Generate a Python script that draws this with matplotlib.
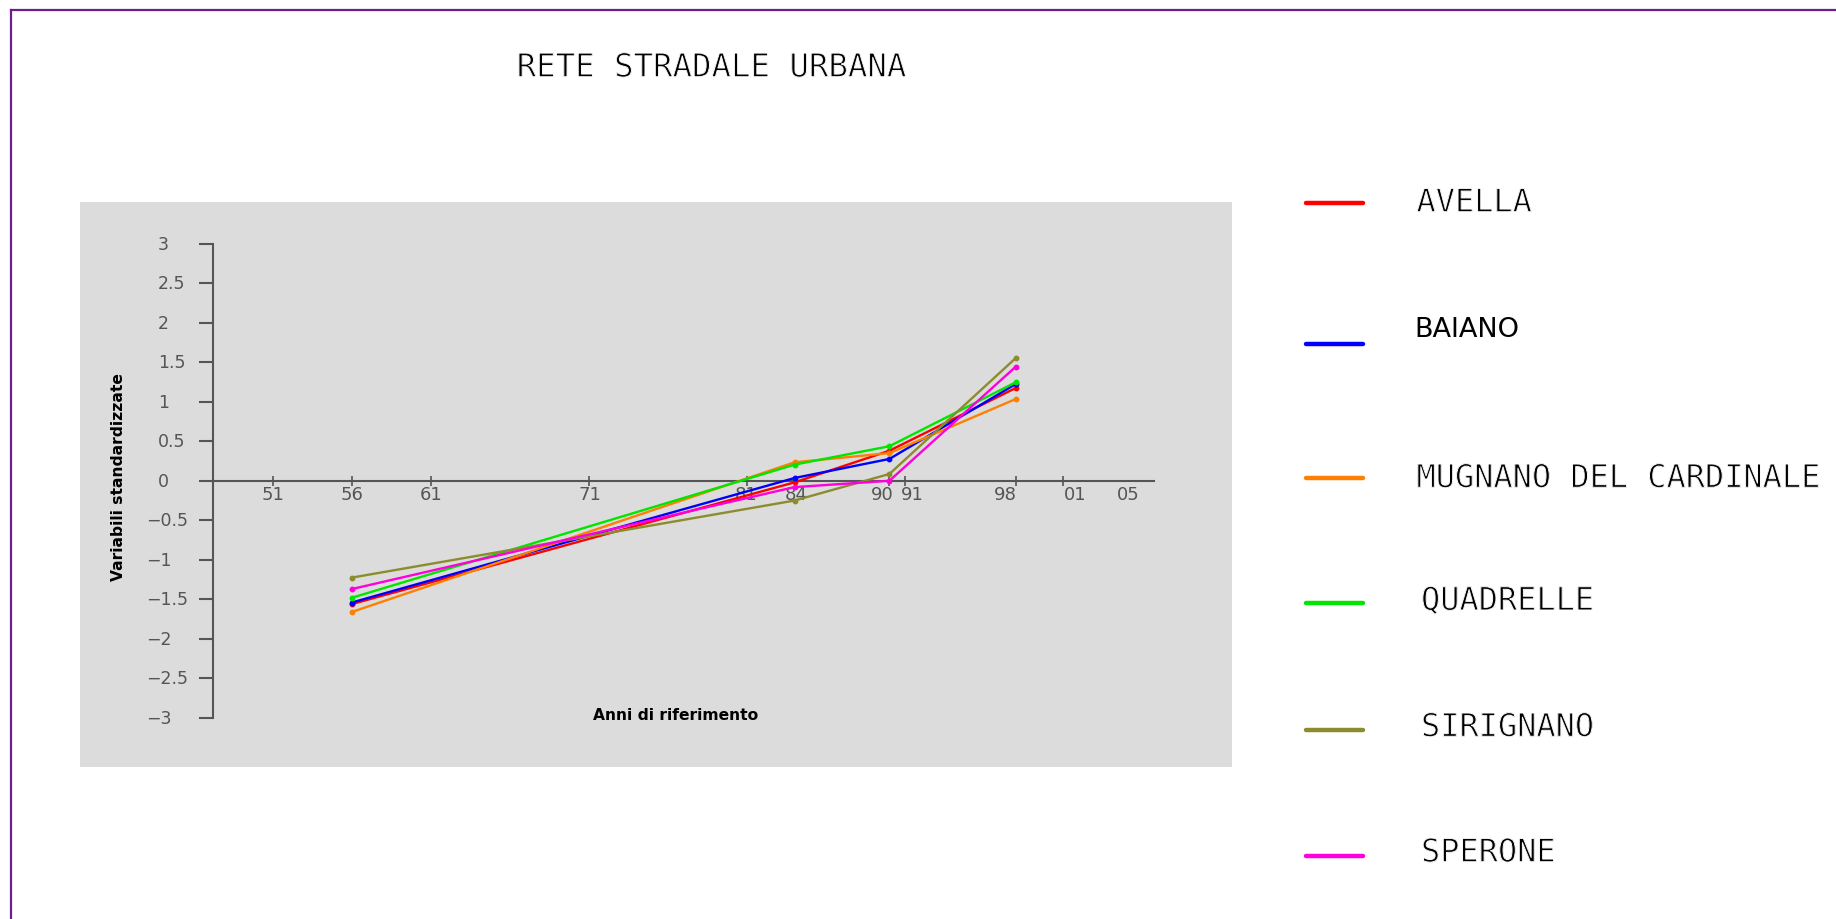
import matplotlib
matplotlib.use("Agg")
import matplotlib.pyplot as plt
import matplotlib.patheffects as pe
from matplotlib.lines import Line2D
from matplotlib.transforms import ScaledTranslation, blended_transform_factory

# anni di rilevazione (19xx) e variabili standardizzate per comune
years = [56, 84, 90, 98]
avella = [-1.56, -0.02, 0.38, 1.175]
baiano = [-1.54, 0.035, 0.276, 1.225]
mugnano = [-1.66, 0.234, 0.35, 1.035]
quadrelle = [-1.48, 0.204, 0.437, 1.247]
sirignano = [-1.225, -0.25, 0.086, 1.554]
sperone = [-1.37, -0.08, 0.0, 1.445]

names = ["AVELLA", "BAIANO", "MUGNANO DEL CARDINALE", "QUADRELLE", "SIRIGNANO", "SPERONE"]
series = [avella, baiano, mugnano, quadrelle, sirignano, sperone]
colors = ["#ff0000", "#0000ff", "#ff8000", "#00e600", "#8c8c2e", "#ff00dd"]

tick_years = [51, 56, 61, 71, 81, 84, 90, 91, 98, 101, 105]
tick_names = ["51", "56", "61", "71", "81", "84", "90", "91", "98", "01", "05"]
y_ticks = [-3, -2.5, -2, -1.5, -1, -0.5, 0, 0.5, 1, 1.5, 2, 2.5, 3]

W, H = 1836, 920
fig = plt.figure(figsize=(W / 100, H / 100), dpi=100)
fig.patch.set_facecolor("white")


def fx(px):
    return px / W


def fy(py):
    return 1 - py / H


# tratto sottile per i testi in stile plotter
thin = [pe.Normal(), pe.Stroke(linewidth=0.7, foreground="white")]

# bordo viola (solo lati alto e sinistro visibili)
fig.add_artist(Line2D([fx(11), 1.0], [fy(11), fy(11)], color="#6b1f8f", lw=1.6))
fig.add_artist(Line2D([fx(11), fx(11)], [fy(11), 0.0], color="#6b1f8f", lw=1.6))

ax = fig.add_axes([fx(79.6), fy(768), (1232 - 79.6) / W, (768 - 202.6) / H])
ax.set_facecolor("#dcdcdc")
ax.set_xlim(38.8, 111.66)
ax.set_ylim(-3.62, 3.531)

for vals, c in zip(series, colors):
    ax.plot(years, vals, color=c, lw=1.7, marker="o", ms=3.2, zorder=3)

axis_col = "#555555"
for s in ["top", "right"]:
    ax.spines[s].set_visible(False)
ax.spines["left"].set_position(("data", 47.21))
ax.spines["left"].set_bounds(-3, 3)
ax.spines["bottom"].set_position(("data", 0))
ax.spines["bottom"].set_bounds(47.21, 106.7)
for s in ["left", "bottom"]:
    ax.spines[s].set_color(axis_col)
    ax.spines[s].set_linewidth(1.5)
    ax.spines[s].set_zorder(1)

ax.set_xticks(tick_years)
ax.set_xticklabels(tick_names)
ax.tick_params(axis="x", direction="inout", length=6.5, width=1.2, color=axis_col,
               labelcolor=axis_col, labelsize=13, pad=0)
ax.set_yticks(y_ticks)
ax.tick_params(axis="y", direction="out", length=10, width=1.5, color=axis_col,
               labelleft=False)
ax.xaxis.get_major_ticks()[-1].tick1line.set_visible(False)
ax.xaxis.get_major_ticks()[-1].tick2line.set_visible(False)

# piccoli spostamenti delle etichette per evitare sovrapposizioni
shifts = [0, 0, 0, 1, -1, 2, -7, 7, -11, 12, 2]
for lbl, dx in zip(ax.get_xticklabels(), shifts):
    lbl.set_transform(lbl.get_transform() + ScaledTranslation(dx / 100, 0, fig.dpi_scale_trans))

# etichette asse y allineate a sinistra
tr = blended_transform_factory(ax.transAxes, ax.transData)
for v in y_ticks:
    txt = f"{abs(v):g}"
    if v < 0:
        ax.text(0.0575, v, "\u2212" + txt, transform=tr, ha="left", va="center",
                fontsize=12.5, color=axis_col)
    else:
        ax.text(0.068, v, txt, transform=tr, ha="left", va="center",
                fontsize=12.5, color=axis_col)

fig.text(fx(118.3), fy(477), "Variabili standardizzate", rotation=90, ha="center",
         va="center", fontsize=11.2, fontweight="bold", color="black")
fig.text(fx(675.4), fy(716), "Anni di riferimento", ha="center", va="center",
         fontsize=11.2, fontweight="bold", color="black")

fig.text(fx(516.7), fy(77.7), "RETE STRADALE URBANA", ha="left", va="baseline",
         fontsize=23.3, family="DejaVu Sans Mono", color="black", path_effects=thin)

# legenda
line_y = [204.3, 345, 479.3, 604.3, 730.7, 856.7]
text_y = [212.7, 336.7, 488.3, 611, 737.3, 862.7]
text_x = [1416.5, 1414.7, 1416.5, 1421, 1421, 1421]
for name, c, ly, ty, tx in zip(names, colors, line_y, text_y, text_x):
    fig.add_artist(Line2D([fx(1305.5), fx(1363.3)], [fy(ly), fy(ly)], color=c,
                          lw=3.2, solid_capstyle="round"))
    if name == "BAIANO":
        fig.text(fx(tx), fy(ty), name, ha="left", va="baseline", fontsize=19.5,
                 family="DejaVu Sans", color="black")
    else:
        fig.text(fx(tx), fy(ty), name, ha="left", va="baseline", fontsize=23,
                 family="DejaVu Sans Mono", color="black", path_effects=thin)

fig.savefig("out.png", dpi=100)
